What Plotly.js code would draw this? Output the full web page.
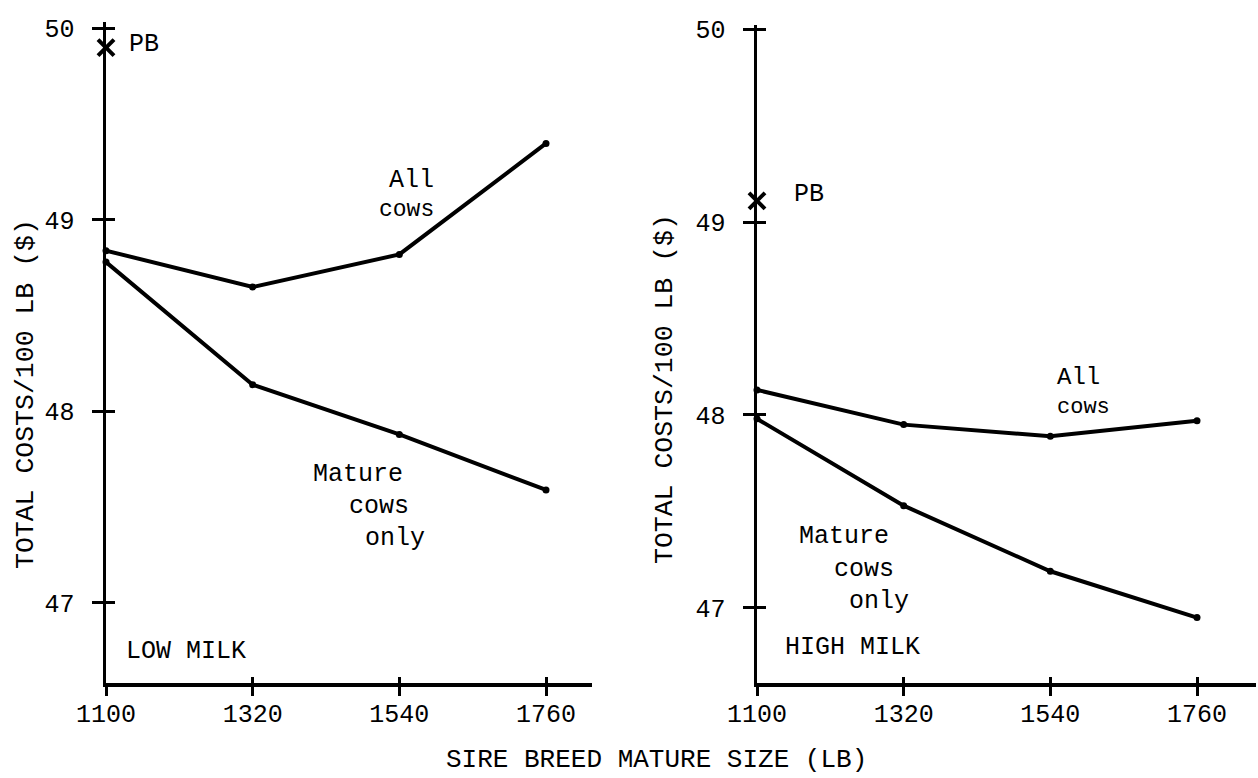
<!DOCTYPE html>
<html>
<head>
<meta charset="utf-8">
<script src="https://cdn.plot.ly/plotly-3.0.1.min.js"></script>
<style>html,body{margin:0;padding:0;background:#fff;}#chart{width:1258px;height:778px;}</style>
</head>
<body>
<div id="chart"></div>
<script>
// ---- data ----
const sireSizes = [1100, 1320, 1540, 1760];
const xTickLabels = ['1100', '1320', '1540', '1760'];
const yTickVals = [47, 48, 49, 50];
const lowMilkAllCows = [48.84, 48.65, 48.82, 49.40];
const lowMilkMatureCows = [48.78, 48.14, 47.88, 47.59];
const highMilkAllCows = [48.13, 47.95, 47.89, 47.97];
const highMilkMatureCows = [47.98, 47.53, 47.19, 46.95];
const pbLowMilk = 49.90;
const pbHighMilk = 49.11;

// ---- layout helpers ----
const W = 1258, H = 778;
const px = x => x / W;
const py = y => 1 - y / H;
const FONT = 'Liberation Mono, DejaVu Sans Mono, monospace';
const INK = '#000';

function lineTrace(y, xa, ya) {
  return {x: sireSizes, y: y, xaxis: xa, yaxis: ya, type: 'scatter', mode: 'lines+markers',
    line: {color: INK, width: 4}, marker: {color: INK, size: 7}, cliponaxis: false,
    showlegend: false, hoverinfo: 'x+y'};
}
function pbTrace(v, xa, ya) {
  return {x: [sireSizes[0]], y: [v], xaxis: xa, yaxis: ya, type: 'scatter', mode: 'markers',
    marker: {symbol: 'x-thin', size: 16, color: INK, line: {width: 4, color: INK}},
    cliponaxis: false, showlegend: false};
}
function ghostTrace(y, xa, ya) {
  return {x: sireSizes, y: y, xaxis: xa, yaxis: ya, type: 'scatter', mode: 'lines',
    line: {color: 'rgba(0,0,0,0)', width: 0}, opacity: 0, hoverinfo: 'skip', showlegend: false};
}

const traces = [
  ghostTrace(lowMilkAllCows, 'x3', 'y3'),
  ghostTrace(highMilkAllCows, 'x4', 'y4'),
  lineTrace(lowMilkAllCows, 'x', 'y'),
  lineTrace(lowMilkMatureCows, 'x', 'y'),
  pbTrace(pbLowMilk, 'x', 'y'),
  lineTrace(highMilkAllCows, 'x2', 'y2'),
  lineTrace(highMilkMatureCows, 'x2', 'y2'),
  pbTrace(pbHighMilk, 'x2', 'y2')
];

const tickFont = {family: FONT, size: 25, color: INK};
function xAxis(dom, rng, anchor) {
  return {domain: dom, range: rng, anchor: anchor, showgrid: false, zeroline: false,
    showline: true, linecolor: INK, linewidth: 3.5, ticks: 'outside', ticklen: 9, tickwidth: 3,
    tickcolor: INK, tickmode: 'array', tickvals: sireSizes, ticktext: xTickLabels,
    tickfont: tickFont, ticklabelstandoff: -4, fixedrange: true};
}
function yAxis(dom, rng, anchor) {
  return {domain: dom, range: rng, anchor: anchor, showgrid: false, zeroline: false,
    showline: true, linecolor: INK, linewidth: 3.5, ticks: 'outside', ticklen: 11, tickwidth: 3,
    tickcolor: INK, tickmode: 'array', tickvals: yTickVals, ticktext: yTickVals.map(String),
    tickfont: tickFont, ticklabelstandoff: 12, fixedrange: true};
}
function innerX(dom, rng, anchor, over) {
  return {domain: dom, range: rng, anchor: anchor, overlaying: over, showgrid: false, zeroline: false,
    showline: false, ticks: 'inside', ticklen: 6, tickwidth: 3, tickcolor: INK,
    tickmode: 'array', tickvals: sireSizes, showticklabels: false, fixedrange: true};
}
function innerY(dom, rng, anchor, over) {
  return {domain: dom, range: rng, anchor: anchor, overlaying: over, showgrid: false, zeroline: false,
    showline: false, ticks: 'inside', ticklen: 9, tickwidth: 3, tickcolor: INK,
    tickmode: 'array', tickvals: yTickVals, showticklabels: false, fixedrange: true};
}

const xDomL = [px(106), px(592)], xRngL = [1100, 1829];
const yDomL = [py(683), py(22)], yRngL = [46.582, 50.034];
const xDomR = [px(757), px(1256)], xRngR = [1100, 1848.5];
const yDomR = [py(683), py(25)], yRngR = [46.611, 50.021];

function ann(text, x, y, xanchor, size) {
  return {text: text, xref: 'paper', yref: 'paper', x: px(x), y: py(y), xanchor: xanchor,
    yanchor: 'middle', showarrow: false, font: {family: FONT, size: size || 25, color: INK}};
}

const annotations = [
  ann('PB', 127, 45, 'left'),
  ann('All', 436, 180, 'right'),
  ann('cows', 436, 210, 'right', 23),
  ann('Mature', 311, 474, 'left'),
  ann('cows', 347, 506, 'left'),
  ann('only', 363, 538, 'left'),
  ann('LOW MILK', 124, 651, 'left'),
  ann('PB', 792, 195, 'left'),
  ann('All', 1055, 377, 'left', 24),
  ann('cows', 1055, 407, 'left', 22),
  ann('Mature', 797, 536, 'left'),
  ann('cows', 832, 569, 'left'),
  ann('only', 847, 601, 'left'),
  ann('HIGH MILK', 783, 647, 'left'),
  ann('SIRE BREED MATURE SIZE (LB)', 656, 760, 'center', 26),
  {text: 'TOTAL COSTS/100 LB ($)', xref: 'paper', yref: 'paper', x: px(26), y: py(394),
   xanchor: 'center', yanchor: 'middle', textangle: -90, showarrow: false,
   font: {family: FONT, size: 26.5, color: INK}},
  {text: 'TOTAL COSTS/100 LB ($)', xref: 'paper', yref: 'paper', x: px(665), y: py(389),
   xanchor: 'center', yanchor: 'middle', textangle: -90, showarrow: false,
   font: {family: FONT, size: 26.5, color: INK}}
];

const layout = {
  width: W, height: H,
  margin: {l: 0, r: 0, t: 0, b: 0, pad: 0},
  paper_bgcolor: '#fff', plot_bgcolor: 'rgba(0,0,0,0)',
  showlegend: false,
  xaxis: xAxis(xDomL, xRngL, 'y'),
  yaxis: yAxis(yDomL, yRngL, 'x'),
  xaxis2: xAxis(xDomR, xRngR, 'y2'),
  yaxis2: yAxis(yDomR, yRngR, 'x2'),
  xaxis3: innerX(xDomL, xRngL, 'y3', 'x'),
  yaxis3: innerY(yDomL, yRngL, 'x3', 'y'),
  xaxis4: innerX(xDomR, xRngR, 'y4', 'x2'),
  yaxis4: innerY(yDomR, yRngR, 'x4', 'y2'),
  annotations: annotations
};

Plotly.newPlot('chart', traces, layout, {displayModeBar: false, staticPlot: true});
</script>
</body>
</html>
